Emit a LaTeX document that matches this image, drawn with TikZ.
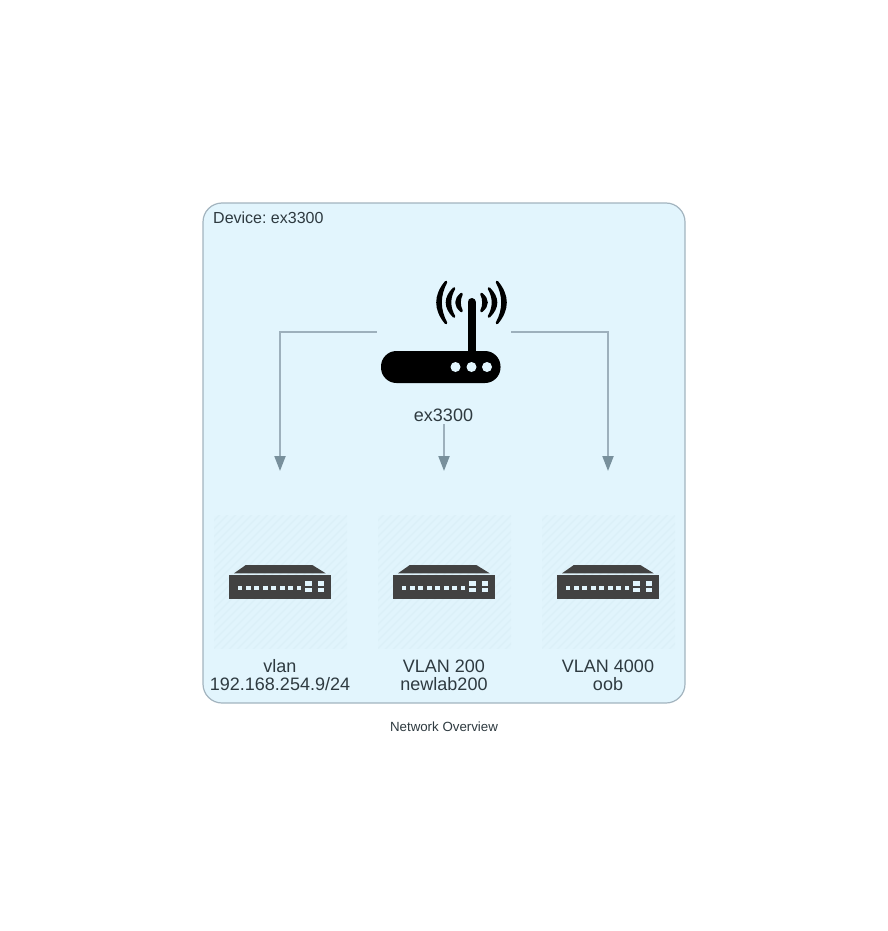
\documentclass[tikz,border=0pt]{standalone}
\usepackage{fontspec}
\setmainfont{Liberation Sans}
\frenchspacing
\usetikzlibrary{arrows.meta, positioning}
\definecolor{groupfill}{HTML}{E2F5FD}
\definecolor{groupline}{HTML}{A3B4BF}
\definecolor{linkline}{HTML}{9DB0BC}
\definecolor{linktip}{HTML}{78909C}
\definecolor{hatchline}{HTML}{DCF0F8}
\definecolor{hatchfill}{HTML}{E1F4FC}
\definecolor{iconfill}{HTML}{424242}
\definecolor{textcol}{HTML}{2E3A40}
\tikzset{
    groupbox/.style={draw=groupline, line width=1.2pt, fill=groupfill, rounded corners=19pt,
        minimum width=482pt, minimum height=500pt, inner sep=0pt},
    link/.style={draw=linkline, line width=2pt,
        -{Triangle[length=15pt, width=11pt, fill=linktip, color=linktip]}},
    label/.style={text=textcol, align=center, inner sep=0pt, font=\fontsize{18}{18}\selectfont},
    hatchbox/.style={minimum width=133pt, minimum height=133pt, inner sep=0pt, fill=hatchfill,
        path picture={
            \foreach \d in {-136,-128,...,136}
                \draw[hatchline, line width=1.6pt]
                    ([xshift=\d pt]path picture bounding box.center)+(-70pt,-70pt) -- +(70pt,70pt);
        }},
    pics/switchicon/.style={code={
        \fill[iconfill] (-34.7,-17) -- (31.8,-17) -- (45.2,-8.7) -- (-46.5,-8.7) -- cycle;
        \fill[iconfill] (-51.2,-6.7) rectangle (50.2,16.7);
        \foreach \x in {-40.5,-32.2,-23.8,-15.2,-6.8,1.8,10.2,18.5}
            \fill[groupfill] (\x-2.4,3.6) rectangle (\x+2.4,8.4);
        \foreach \x in {27.8,40.5}
            \foreach \y in {1.7,8}
                \fill[groupfill] (\x-3.3,\y-2.3) rectangle (\x+3.3,\y+2.3);
    }},
    wave/.style={fill=black, draw=black, line width=2.6pt, line join=round},
}

\begin{document}
\begin{tikzpicture}[x=1pt, y=-1pt]
    \useasboundingbox (0,0) rectangle (888,931);
    \node[groupbox] (group) at (444,453) {};
    \node[anchor=west, text=textcol, inner sep=0pt, font=\fontsize{16}{16}\selectfont] (grouplabel) at (213,217.5) {Device: ex3300};

    % router with its antenna
    \node[minimum width=134pt, minimum height=110pt, inner sep=0pt] (router) at (444,332) {};
    \fill[black, rounded corners=15.5pt] (381,351) rectangle (500.5,383);
    \draw[black, line width=8pt, line cap=round] (471.5,302) -- (471.5,352);
    \foreach \x in {455.5,471.5,487}
        \fill[groupfill] (\x,367) circle (5);
    % end offset, middle offset, half height of each wave
    \foreach \s in {-1,1}
        \foreach \e/\m/\h in {25.5/32.5/20.5, 17.5/23/14, 10/13.5/8.5} {
            \pgfmathsetmacro{\outer}{471.5+\s*(8*\m+12-2*\e)/6}
            \pgfmathsetmacro{\inner}{471.5+\s*(8*\m-12-2*\e)/6}
            \pgfmathsetmacro{\tipx}{471.5+\s*\e}
            \draw[wave] (\tipx,302.5-\h)
                .. controls (\outer,302.5-\h/3) and (\outer,302.5+\h/3) .. (\tipx,302.5+\h)
                .. controls (\inner,302.5+\h/3) and (\inner,302.5-\h/3) .. (\tipx,302.5-\h) -- cycle;
        }
    \node[label, anchor=north, minimum height=17pt] (routerlabel) at (443.5,407) {ex3300};

    % vlan boxes
    \node[hatchbox] (vlan) at (280.5,582) {};
    \node[hatchbox] (vlanA) at (444.5,582) {};
    \node[hatchbox] (vlanB) at (608.5,582) {};
    \pic at (vlan) {switchicon};
    \pic at (vlanA) {switchicon};
    \pic at (vlanB) {switchicon};
    \node[label] (vlanlabel) at (280,675.5) {vlan\\192.168.254.9/24};
    \node[label] (vlanAlabel) at (444,675.5) {VLAN 200\\newlab200};
    \node[label] (vlanBlabel) at (608,675.5) {VLAN 4000\\oob};

    % links stop short of the boxes
    \coordinate (vlantop) at (280,471);
    \coordinate (vlanAtop) at (444,471);
    \coordinate (vlanBtop) at (608,471);
    \draw[link] (router.west) -| (vlantop);
    \draw[link] (routerlabel.south -| vlanAtop) -- (vlanAtop);
    \draw[link] (router.east) -| (vlanBtop);

    \node[text=textcol, inner sep=0pt, font=\fontsize{13.3}{13.3}\selectfont] (caption) at (444,726.5) {Network Overview};
\end{tikzpicture}
\end{document}
